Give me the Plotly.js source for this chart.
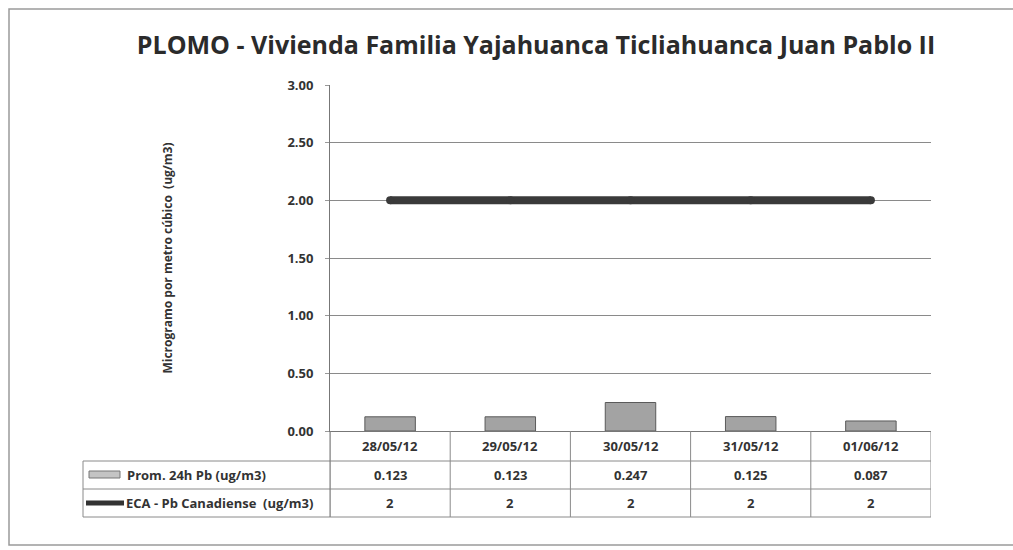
<!DOCTYPE html>
<html>
<head>
<meta charset="utf-8">
<script src="https://cdn.plot.ly/plotly-3.0.1.min.js"></script>
<style>html,body{margin:0;padding:0;background:#fff;}#chart{width:1013px;height:550px;}</style>
</head>
<body>
<div id="chart"></div>
<script>
const categories = ["28/05/12", "29/05/12", "30/05/12", "31/05/12", "01/06/12"];
const promValues = [0.123, 0.123, 0.247, 0.125, 0.087];
const ecaValues = [2, 2, 2, 2, 2];
const promLabels = ["0.123", "0.123", "0.247", "0.125", "0.087"];
const ecaLabels = ["2", "2", "2", "2", "2"];
const seriesNames = ["Prom. 24h Pb (ug/m3)", "ECA - Pb Canadiense  (ug/m3)"];
const yTicks = [0, 0.5, 1, 1.5, 2, 2.5, 3];

const W = 1013, H = 550;
const L = 330, R = 931, T = 85, B = 431;
const px = x => (x - L) / (R - L);
const py = y => (B - y) / (B - T);
const FONT = "'Open Sans', 'Noto Sans', sans-serif";
const GRID = "#8a8a8a";

const shapes = [];
const annotations = [];
function hline(y, x0, x1, col, w) {
  shapes.push({type: "line", xref: "paper", yref: "paper", x0: px(x0), x1: px(x1), y0: py(y), y1: py(y), line: {color: col || GRID, width: w || 1}});
}
function vlineData(xd, y0, y1) {
  shapes.push({type: "line", xref: "x", yref: "paper", x0: xd, x1: xd, y0: py(y0), y1: py(y1), line: {color: GRID, width: 1}});
}
function vlinePx(x, y0, y1, col) {
  shapes.push({type: "line", xref: "paper", yref: "paper", x0: px(x), x1: px(x), y0: py(y0), y1: py(y1), line: {color: col || GRID, width: 1}});
}

// outer frame
shapes.push({type: "rect", xref: "paper", yref: "paper", x0: px(9), x1: px(1030), y0: py(9), y1: py(545), line: {color: "#9a9a9a", width: 1.5}, fillcolor: "rgba(0,0,0,0)", layer: "below"});

// table grid
const rowY = [461, 489, 517];
rowY.forEach(y => hline(y, 83, R));
vlinePx(83, 461, 517);
vlinePx(L, B, 517, "#777");
for (let i = 0; i <= categories.length; i++) vlineData(i - 0.5, B, 517);

// legend icons in row labels
shapes.push({type: "rect", xref: "paper", yref: "paper", x0: px(89), x1: px(120), y0: py(471), y1: py(478), fillcolor: "#c4c4c4", line: {color: "#777", width: 1}});
shapes.push({type: "line", xref: "paper", yref: "paper", x0: px(86), x1: px(124), y0: py(503), y1: py(503), line: {color: "#333", width: 5}});

// table text
const cellFont = {family: FONT, size: 13, color: "#333", weight: 700};
categories.forEach((c, i) => {
  annotations.push({xref: "x", yref: "paper", x: i, y: py(446), text: "<b>" + c + "</b>", showarrow: false, font: cellFont, xanchor: "center", yanchor: "middle"});
  annotations.push({xref: "x", yref: "paper", x: i, y: py(475), text: "<b>" + promLabels[i] + "</b>", showarrow: false, font: cellFont, xanchor: "center", yanchor: "middle"});
  annotations.push({xref: "x", yref: "paper", x: i, y: py(503), text: "<b>" + ecaLabels[i] + "</b>", showarrow: false, font: cellFont, xanchor: "center", yanchor: "middle"});
});
annotations.push({xref: "paper", yref: "paper", x: px(125), y: py(475), text: "<b>" + seriesNames[0] + "</b>", showarrow: false, font: cellFont, xanchor: "left", yanchor: "middle"});
annotations.push({xref: "paper", yref: "paper", x: px(124), y: py(503), text: "<b>" + seriesNames[1] + "</b>", showarrow: false, font: cellFont, xanchor: "left", yanchor: "middle"});

const traces = [
  {type: "bar", x: categories, y: promValues, name: seriesNames[0], width: 0.42,
   marker: {color: "#a3a3a3", line: {color: "#5a5a5a", width: 1}}, hoverinfo: "y"},
  {type: "scatter", mode: "lines+markers", x: categories, y: ecaValues, name: seriesNames[1],
   line: {color: "#3a3a3a", width: 8}, marker: {color: "#3a3a3a", size: 8, symbol: "circle"}, hoverinfo: "y"}
];

const layout = {
  width: W, height: H,
  margin: {l: L, r: W - R, t: T, b: H - B, pad: 0},
  paper_bgcolor: "#fff", plot_bgcolor: "#fff",
  showlegend: false,
  title: {text: "<b>PLOMO - Vivienda Familia Yajahuanca Ticliahuanca Juan Pablo II</b>",
          font: {family: FONT, size: 25, color: "#2b2b2b", weight: 700}, x: px(536), xanchor: "center", xref: "paper", y: 1 - 45 / H, yanchor: "middle"},
  xaxis: {type: "category", range: [-0.5, 4.5], showticklabels: false, showgrid: false, zeroline: false,
          showline: true, linecolor: "#777", linewidth: 1, ticks: "", fixedrange: true},
  yaxis: {range: [0, 3], tickvals: yTicks, tickformat: ".2f", showgrid: true, gridcolor: GRID, gridwidth: 1,
          zeroline: false, showline: true, linecolor: "#777", linewidth: 1, ticks: "outside", ticklen: 4, tickcolor: "#999",
          ticklabelstandoff: 9,
          tickfont: {family: FONT, size: 13, color: "#333", weight: 700},
          title: {text: "<b>Microgramo por metro cúbico  (ug/m3)</b>", font: {family: FONT, size: 12, color: "#333", weight: 700}, standoff: 112},
          fixedrange: true, mirror: false},
  shapes: shapes,
  annotations: annotations,
  bargap: 0.5
};

Plotly.newPlot("chart", traces, layout, {displayModeBar: false, staticPlot: true});
</script>
</body>
</html>
